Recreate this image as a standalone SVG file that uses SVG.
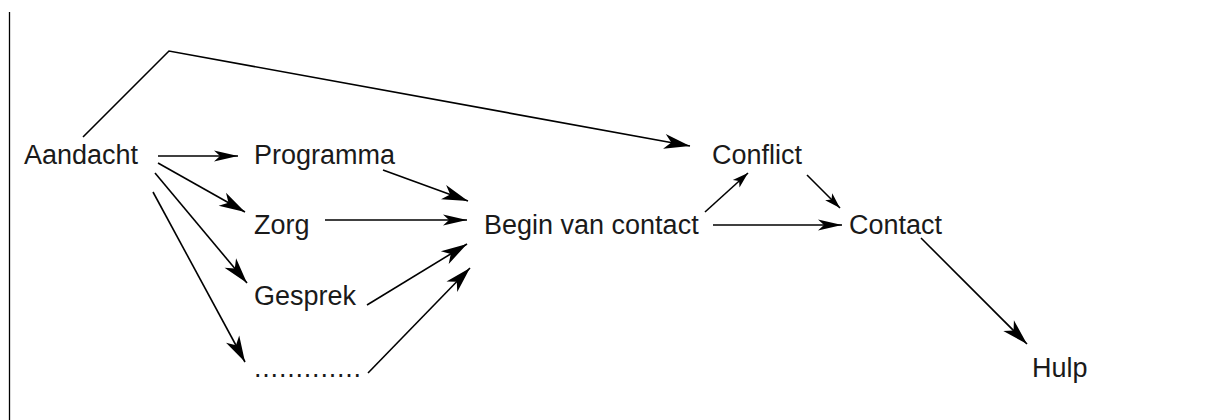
<svg xmlns="http://www.w3.org/2000/svg" width="1216" height="420" viewBox="0 0 1216 420">
<defs>
<style>
.t{font-family:"Liberation Sans","Noto Sans",Arial,sans-serif;font-size:27px;fill:#1a1a1a}
.c{fill:none;stroke:#000;stroke-width:1.6}
</style>
<marker id="big" markerUnits="userSpaceOnUse" markerWidth="32" markerHeight="18" refX="26" refY="8" orient="auto" overflow="visible">
<path d="M0,0.5 L26,8 L0,15.5 L7,8 Z" fill="#000"/>
</marker>
<marker id="mid" markerUnits="userSpaceOnUse" markerWidth="30" markerHeight="16" refX="24" refY="6" orient="auto" overflow="visible">
<path d="M0,0.5 L24,6 L0,11.5 L6,6 Z" fill="#000"/>
</marker>
<marker id="small" markerUnits="userSpaceOnUse" markerWidth="20" markerHeight="12" refX="16" refY="5" orient="auto" overflow="visible">
<path d="M0,0 L16,5 L0,10 L4,5 Z" fill="#000"/>
</marker>
</defs>
<rect width="1216" height="420" fill="#fff"/>
<line x1="9.5" y1="12" x2="9.5" y2="420" stroke="#000" stroke-width="1.3"/>

<g id="connectors">
<polyline class="c" points="83,137 169,51 690,146" marker-end="url(#big)"/>
<line class="c" x1="158" y1="156" x2="238" y2="156" marker-end="url(#mid)"/>
<line class="c" x1="158" y1="163" x2="245" y2="212" marker-end="url(#big)"/>
<line class="c" x1="155" y1="173" x2="247" y2="283" marker-end="url(#big)"/>
<line class="c" x1="153" y1="192" x2="245" y2="362" marker-end="url(#big)"/>
<line class="c" x1="383" y1="170" x2="468" y2="201" marker-end="url(#big)"/>
<line class="c" x1="325" y1="220" x2="467" y2="220" marker-end="url(#mid)"/>
<line class="c" x1="367" y1="305" x2="467" y2="244" marker-end="url(#big)"/>
<line class="c" x1="368" y1="373" x2="470" y2="268" marker-end="url(#big)"/>
<line class="c" x1="705" y1="212" x2="748" y2="173" marker-end="url(#small)"/>
<line class="c" x1="807" y1="175" x2="840" y2="208" marker-end="url(#small)"/>
<line class="c" x1="713" y1="225" x2="842" y2="225" marker-end="url(#mid)"/>
<line class="c" x1="921" y1="238" x2="1027" y2="344" marker-end="url(#big)"/>
</g>

<g id="aandacht"><text class="t" x="24" y="164">Aandacht</text></g>
<g id="programma"><text class="t" x="254" y="164">Programma</text></g>
<g id="zorg"><text class="t" x="254" y="234">Zorg</text></g>
<g id="gesprek"><text class="t" x="254" y="305">Gesprek</text></g>
<g id="dots"><text class="t" x="254" y="377" letter-spacing="0.8">.............</text></g>
<g id="begin"><text class="t" x="484" y="234">Begin van contact</text></g>
<g id="conflict"><text class="t" x="712" y="164">Conflict</text></g>
<g id="contact"><text class="t" x="849" y="234">Contact</text></g>
<g id="hulp"><text class="t" x="1032" y="377">Hulp</text></g>
</svg>
